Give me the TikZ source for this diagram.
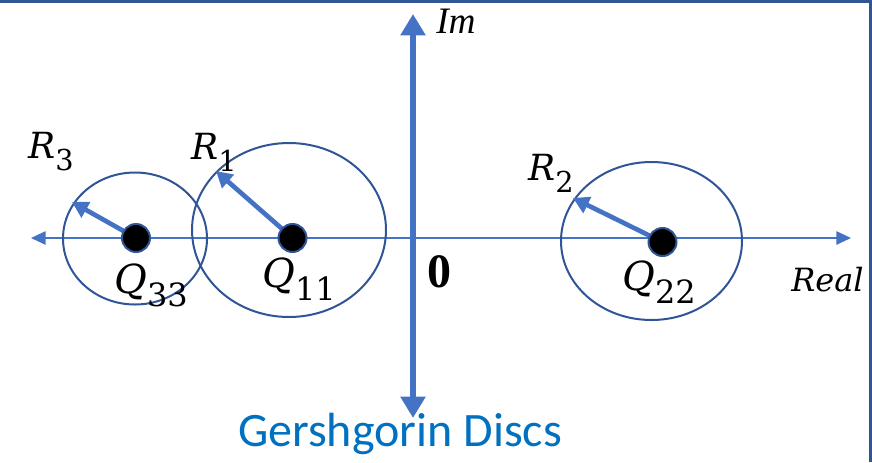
\documentclass[tikz,border=0pt]{standalone}
\usepackage{fontspec}
\newfontfamily\carlito{Carlito}
\newfontfamily\dvs{DejaVu Serif}
\newfontfamily\lbs{Liberation Serif}
\newcommand\lsub[1]{\raisebox{-0.34em}{\scalebox{0.8}{\dvs\upshape #1}}}
\usetikzlibrary{arrows.meta,shapes.geometric}
\definecolor{axisblue}{HTML}{4472C4}
\definecolor{darkblue}{HTML}{2F5597}
\definecolor{titleblue}{HTML}{0070C0}
\begin{document}
\begin{tikzpicture}[x=0.75pt,y=-0.75pt,
  frameline/.style={draw=darkblue, line width=2.2pt},
  realaxis/.style={draw=axisblue, line width=1.4pt, {Triangle[length=11pt,width=10pt]}-{Triangle[length=11pt,width=10pt]}},
  imaxis/.style={draw=axisblue, line width=5pt, {Triangle[length=16pt,width=18pt]}-{Triangle[length=16pt,width=18pt]}},
  disc/.style={ellipse, draw=darkblue, line width=1.5pt, inner sep=0pt},
  centre/.style={circle, fill=black, draw=darkblue, line width=1.5pt, minimum size=21pt, inner sep=0pt},
  radius/.style={draw=axisblue, line width=3.5pt, -{Triangle[length=12pt,width=13pt]}},
  rlabel/.style={font=\fontsize{27}{27}\dvs, inner sep=0pt, anchor=base west},
  qlabel/.style={font=\fontsize{30}{30}\dvs, inner sep=0pt, anchor=base west},
  axlabel/.style={inner sep=0pt, anchor=base west}
]
\useasboundingbox (0,0) rectangle (872,462);
\coordinate (tl) at (0,1.5);
\coordinate (tr) at (870.5,1.5);
\coordinate (br) at (870.5,462);
\draw[frameline] (tl) -- (tr) -- (br);

\coordinate (xl) at (31,238);
\coordinate (xr) at (851,238);
\coordinate (yt) at (413,14);
\coordinate (yb) at (413,418);
\draw[realaxis] (xl) -- (xr);

\node[disc, minimum width=108pt, minimum height=99pt] (d3) at (135,238.5) {};
\node[disc, minimum width=145.5pt, minimum height=130.5pt] (d1) at (289,230) {};
\node[disc, minimum width=135.75pt, minimum height=118.5pt] (d2) at (651.5,241) {};

\draw[imaxis] (yb) -- (yt);

\coordinate (q3c) at (136,238);
\coordinate (q1c) at (292.5,238);
\coordinate (q2c) at (662.5,242);
\coordinate (r3) at (72,202);
\coordinate (r1) at (216,171);
\coordinate (r2) at (573,198);
\draw[radius] (q3c) -- (r3);
\draw[radius] (q1c) -- (r1);
\draw[radius] (q2c) -- (r2);

\node[centre] (q3) at (q3c) {};
\node[centre] (q1) at (q1c) {};
\node[centre] (q2) at (q2c) {};

\node[rlabel] (lr3) at (28,158) {\itshape R\lsub{3}};
\node[rlabel] (lr1) at (191,159) {\itshape R\lsub{1}};
\node[rlabel] (lr2) at (528,180) {\itshape R\lsub{2}};

\node[qlabel] (lq3) at (114,293) {\itshape Q\lsub{33}};
\node[qlabel] (lq1) at (262,287) {\itshape Q\lsub{11}};
\node[qlabel] (lq2) at (622,290) {\itshape Q\lsub{22}};

\node[axlabel, font=\fontsize{24}{24}\dvs\itshape] (lre) at (791,291) {Real};
\node[axlabel, font=\fontsize{28}{28}\lbs\itshape] (lim) at (436,33) {Im};
\node[inner sep=0pt, font=\fontsize{36}{36}\lbs\bfseries] (zero) at (439.5,272) {0};

\node[inner sep=0pt, text=titleblue, font=\fontsize{36}{36}\carlito] (title) at (400,434) {Gershgorin Discs};
\end{tikzpicture}
\end{document}
